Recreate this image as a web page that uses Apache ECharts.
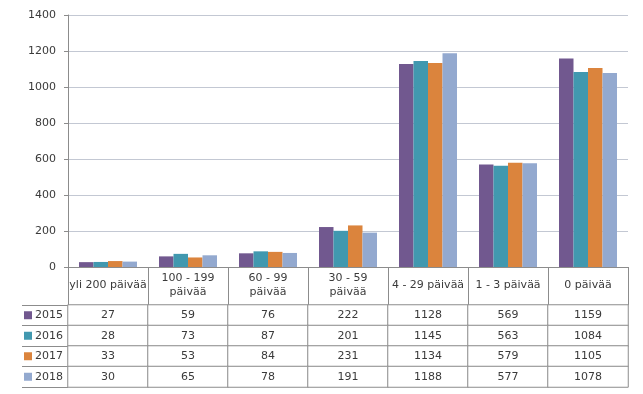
<!DOCTYPE html>
<html>
<head>
<meta charset="utf-8">
<script src="https://cdn.jsdelivr.net/npm/echarts@6/dist/echarts.min.js"></script>
<style>html,body{margin:0;padding:0;background:#fff;}#c{width:643px;height:394px;}</style>
</head>
<body>
<div id="c"></div>
<script>
var categories = ['yli 200 päivää', '100 - 199\npäivää', '60 - 99\npäivää', '30 - 59\npäivää', '4 - 29 päivää', '1 - 3 päivää', '0 päivää'];
var years = ['2015', '2016', '2017', '2018'];
var v2015 = [27, 59, 76, 222, 1128, 569, 1159];
var v2016 = [28, 73, 87, 201, 1145, 563, 1084];
var v2017 = [33, 53, 84, 231, 1134, 579, 1105];
var v2018 = [30, 65, 78, 191, 1188, 577, 1078];
var yTicks = [0, 200, 400, 600, 800, 1000, 1200, 1400];

var colors = ['#71588F', '#4198AF', '#DB843D', '#93A9CF'];
var allVals = [v2015, v2016, v2017, v2018];
var FONT = 'DejaVu Sans';
var TXT = '#3a3a3a';
var LINE = '#8c8c8c';

var tableData = [];
allVals.forEach(function (arr, r) {
  arr.forEach(function (v, c) { tableData.push([c, r, v]); });
});

var rich = {};
colors.forEach(function (col, i) {
  rich['s' + i] = { width: 8, height: 8, backgroundColor: col };
});
rich.t = { fontFamily: FONT, fontSize: 11, color: TXT, padding: [0, 0, 0, 3] };

var chart = echarts.init(document.getElementById('c'), null, { renderer: 'canvas' });
var option = {
  animation: false,
  backgroundColor: '#ffffff',
  grid: [
    { left: 68, right: 15, top: 15, bottom: 127, containLabel: false },
    { left: 68, right: 15, top: 305, bottom: 7, containLabel: false }
  ],
  xAxis: [
    {
      type: 'category', gridIndex: 0, data: categories,
      axisLine: { show: true, lineStyle: { color: LINE, width: 1 } },
      axisTick: { show: true, length: 38, alignWithLabel: false, interval: 0, lineStyle: { color: LINE } },
      axisLabel: { interval: 0, margin: 18, verticalAlign: 'middle', lineHeight: 14, fontFamily: FONT, fontSize: 11, color: TXT },
      splitLine: { show: false }
    },
    {
      type: 'category', gridIndex: 1, data: categories,
      axisLine: { show: false }, axisTick: { show: false }, axisLabel: { show: false }, splitLine: { show: false }
    }
  ],
  yAxis: [
    {
      type: 'value', gridIndex: 0, min: yTicks[0], max: yTicks[yTicks.length - 1], interval: 200,
      axisLine: { show: true, lineStyle: { color: LINE } },
      axisTick: { show: true, length: 4, lineStyle: { color: LINE } },
      axisLabel: { margin: 12, fontFamily: FONT, fontSize: 11, color: TXT,
        formatter: function (v) { return String(v); } },
      splitLine: { show: true, lineStyle: { color: '#c3c8d3', width: 1 } }
    },
    {
      type: 'category', gridIndex: 1, data: years, inverse: true,
      axisLine: { show: false },
      axisTick: { show: true, length: 46, alignWithLabel: false, interval: 0, lineStyle: { color: LINE } },
      axisLabel: {
        margin: 5, interval: 0,
        formatter: function (val, idx) { return '{s' + idx + '|}{t|' + val + '}'; },
        rich: rich
      },
      splitLine: { show: false }
    },
    {
      type: 'category', gridIndex: 1, data: years, inverse: true, offset: 46,
      axisLine: { show: true, lineStyle: { color: LINE } },
      axisTick: { show: false }, axisLabel: { show: false }, splitLine: { show: false }
    }
  ],
  visualMap: {
    show: false, seriesIndex: 4, dimension: 2, min: 0, max: 2000,
    inRange: { color: ['#ffffff', '#ffffff'] }
  },
  series: allVals.map(function (arr, i) {
    return {
      name: years[i], type: 'bar', xAxisIndex: 0, yAxisIndex: 0, data: arr,
      barGap: '0%', barCategoryGap: '27.5%',
      itemStyle: { color: colors[i] }
    };
  }).concat([{
    type: 'heatmap', xAxisIndex: 1, yAxisIndex: 1, data: tableData,
    itemStyle: { color: '#ffffff', borderColor: LINE, borderWidth: 1 },
    label: { show: true, fontFamily: FONT, fontSize: 11, color: TXT,
      formatter: function (p) { return String(p.value[2]); } },
    emphasis: { disabled: true }
  }])
};
chart.setOption(option);
</script>
</body>
</html>
